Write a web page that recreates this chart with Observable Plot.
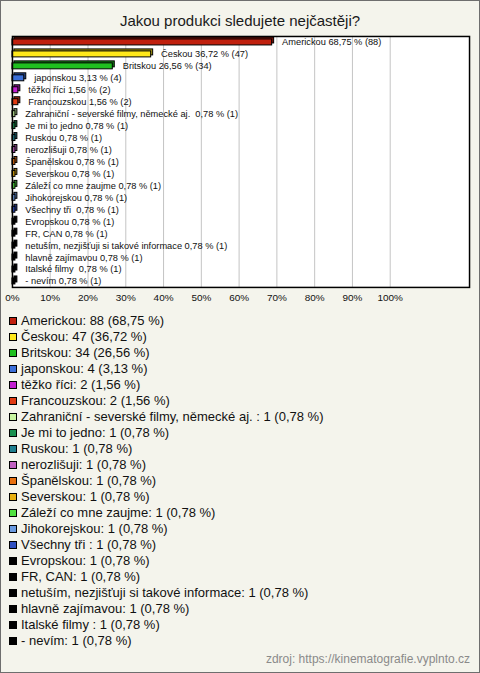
<!DOCTYPE html>
<html>
<head>
<meta charset="utf-8">
<script src="https://cdn.jsdelivr.net/npm/d3@7"></script>
<script src="https://cdn.jsdelivr.net/npm/@observablehq/plot@0.6"></script>
<style>
  html, body { margin: 0; padding: 0; background: #ffffff; }
  #wrap { position: relative; width: 480px; height: 673px; box-sizing: border-box;
          border: 1px solid #6e6e6e; background: #f4f4ec; font-family: "Liberation Sans", Arial, sans-serif; overflow: hidden; }
  #title { position: absolute; left: 0; top: 11px; width: 478px; text-align: center; font-size: 15px; color: #1a1a1a; }
  #chart { position: absolute; left: 0; top: 30px; }
  #legend { position: absolute; left: 8px; top: 312px; font-size: 13px; color: #111; }
  .row { height: 16px; line-height: 16px; white-space: pre; display: flex; align-items: center; }
  .sw { width: 6px; height: 6px; border: 1px solid #000; margin-right: 4px; flex: none; }
  #caption { position: absolute; right: 9px; top: 651px; font-size: 12px; color: #8a8a8a; }
</style>
</head>
<body>
<div id="wrap">
  <div id="title">Jakou produkci sledujete nejčastěji?</div>
  <div id="chart"></div>
  <div id="legend"></div>
  <div id="caption">zdroj: https://kinematografie.vyplnto.cz</div>
</div>
<script>
const categories = [
  "Americkou", "Českou", "Britskou", "japonskou", "těžko říci", "Francouzskou",
  "Zahraniční - severské filmy, německé aj. ", "Je mi to jedno", "Ruskou", "nerozlišuji",
  "Španělskou", "Severskou", "Záleží co mne zaujme", "Jihokorejskou", "Všechny tři ",
  "Evropskou", "FR, CAN", "netuším, nezjišťuji si takové informace", "hlavně zajímavou",
  "Italské filmy ", "- nevím"
];
const counts = [88, 47, 34, 4, 2, 2, 1, 1, 1, 1, 1, 1, 1, 1, 1, 1, 1, 1, 1, 1, 1];
const percents = [68.75, 36.72, 26.56, 3.13, 1.56, 1.56, 0.78, 0.78, 0.78, 0.78, 0.78, 0.78, 0.78, 0.78, 0.78, 0.78, 0.78, 0.78, 0.78, 0.78, 0.78];
const colors = [
  "#c0200e", "#ffe81a", "#1fbf1f", "#3b6fd8", "#c21fd0", "#e03a12",
  "#c8f5a0", "#1a9050", "#1f7f8f", "#c060c0", "#e87010", "#e8b010",
  "#50e040", "#6a9ae0", "#3050c0", "#000000", "#000000", "#000000",
  "#000000", "#000000", "#000000"
];
const tickValues = [0, 10, 20, 30, 40, 50, 60, 70, 80, 90, 100];

const fmt = v => v.toFixed(2).replace(".", ",");
const data = categories.map((name, i) => ({
  name, count: counts[i], pct: percents[i], color: colors[i],
  dark: d3.color(colors[i]).darker(1.2).formatHex()
}));

const chart = Plot.plot({
  width: 480,
  height: 280,
  marginTop: 5,
  marginBottom: 23,
  marginLeft: 11,
  marginRight: 10,
  style: { fontFamily: "Liberation Sans, Arial, sans-serif", fontSize: "10px", background: "transparent", color: "#111" },
  x: { domain: [0, 121], ticks: tickValues, tickFormat: d => d + "%", tickSize: 0, tickPadding: 7, label: null },
  y: { domain: categories, axis: null, padding: 0 },
  color: { type: "identity" },
  marks: [
    Plot.frame({ fill: "white" }),
    Plot.ruleX(tickValues.slice(1), { stroke: "#c4c4c4", strokeWidth: 1 }),
    Plot.barX(data, { x: "pct", y: "name", fill: "dark", stroke: "#000", strokeWidth: 1, insetTop: 3, insetBottom: 3, dx: 2, dy: -2 }),
    Plot.barX(data, { x: "pct", y: "name", fill: "color", stroke: "#000", strokeWidth: 1, insetTop: 3, insetBottom: 3 }),
    Plot.text(data, { x: "pct", y: "name", text: d => d.name + " " + fmt(d.pct) + " % (" + d.count + ")", textAnchor: "start", dx: 10, fontSize: 9.3, fill: "#111" }),
    Plot.frame({ stroke: "#000", strokeWidth: 1.5 })
  ]
});
document.getElementById("chart").appendChild(chart);

const legend = document.getElementById("legend");
data.forEach(d => {
  const row = document.createElement("div");
  row.className = "row";
  const sw = document.createElement("span");
  sw.className = "sw";
  sw.style.background = d.color;
  const t = document.createElement("span");
  t.textContent = d.name.replace(/\s+$/, " ") + ": " + d.count + " (" + fmt(d.pct) + " %)";
  row.appendChild(sw);
  row.appendChild(t);
  legend.appendChild(row);
});
</script>
</body>
</html>
